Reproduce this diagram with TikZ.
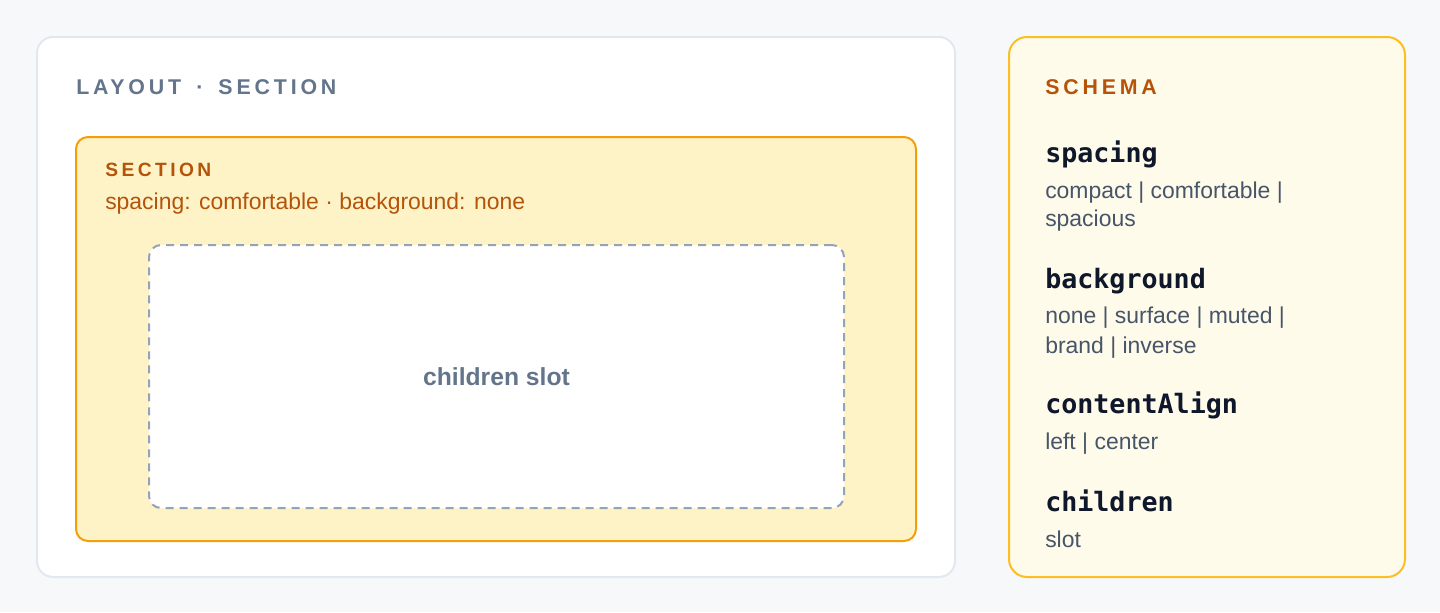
\documentclass[tikz,border=0pt]{standalone}
\usepackage{fontspec}
\setmainfont{Liberation Sans}
\setmonofont{DejaVu Sans Mono}
\newfontfamily\capsfont{Liberation Sans}[LetterSpace=18]
\usetikzlibrary{positioning}

\definecolor{pagebg}{HTML}{F7F8FA}
\definecolor{cardline}{HTML}{E2E8F0}
\definecolor{slate}{HTML}{64748B}
\definecolor{slotline}{HTML}{94A3B8}
\definecolor{amberdark}{HTML}{B45309}
\definecolor{amberline}{HTML}{F59E0B}
\definecolor{amberfill}{HTML}{FEF3C7}
\definecolor{schemaline}{HTML}{FBBF24}
\definecolor{schemafill}{HTML}{FFFBEB}
\definecolor{keyink}{HTML}{0F172A}
\definecolor{valink}{HTML}{475569}

\tikzset{
    card/.style={draw, line width=1.5pt, rounded corners=12pt, anchor=north west, inner sep=0pt},
    caps/.style={anchor=base west, inner sep=0pt, font=\capsfont\bfseries\fontsize{16}{19}\selectfont},
    smallcaps/.style={caps, font=\capsfont\bfseries\fontsize{14.4}{17}\selectfont},
    body/.style={anchor=base west, inner sep=0pt, font=\fontsize{17.2}{20}\selectfont},
    key/.style={anchor=base west, inner sep=0pt, text=keyink, font=\ttfamily\bfseries\fontsize{20}{24}\selectfont},
    val/.style={body, text=valink}
}

\begin{document}
\begin{tikzpicture}[x=0.75pt, y=-0.75pt]

        \fill[pagebg] (0,0) rectangle (1440,612);
        \useasboundingbox (0,0) rectangle (1440,612);

        % layout card
        \node[card, draw=cardline, fill=white, rounded corners=12pt, minimum width=688.5pt, minimum height=405pt] (layout) at (36,36) {};
        \node[caps, text=slate] (layouttitle) at (76,94) {LAYOUT\hspace{4pt} · \hspace{4pt}SECTION};

        \node[card, draw=amberline, fill=amberfill, rounded corners=9pt, minimum width=630pt, minimum height=303pt] (section) at (75,136) {};
        \node[smallcaps, text=amberdark] (sectiontitle) at (105,176) {SECTION};
        \node[body, text=amberdark] (sectionprops) at (105,209) {spacing: comfortable · background: none};

        \node[card, draw=slotline, fill=white, dash pattern=on 6pt off 4.5pt, rounded corners=9pt, minimum width=521.25pt, minimum height=197.25pt] (slot) at (148,244) {};
        \node[text=slate, font=\bfseries\fontsize{18.5}{22}\selectfont] (slotlabel) at (slot.center) {children slot};

        % schema card
        \node[card, draw=schemaline, fill=schemafill, rounded corners=13.5pt, minimum width=297pt, minimum height=405pt] (schema) at (1008,36) {};
        \node[caps, text=amberdark] (schematitle) at (1045,94) {SCHEMA};

        \node[key] (spacing) at (1045,162) {spacing};
        \node[val] (spacingvals) at (1045,198) {compact | comfortable |};
        \node[val] (spacingvals2) at (1045,226) {spacious};

        \node[key] (background) at (1045,288) {background};
        \node[val] (backgroundvals) at (1045,323) {none | surface | muted |};
        \node[val] (backgroundvals2) at (1045,353) {brand | inverse};

        \node[key] (align) at (1045,413) {contentAlign};
        \node[val] (alignvals) at (1045,449) {left | center};

        \node[key] (children) at (1045,511) {children};
        \node[val] (childrenvals) at (1045,547) {slot};

\end{tikzpicture}
\end{document}
